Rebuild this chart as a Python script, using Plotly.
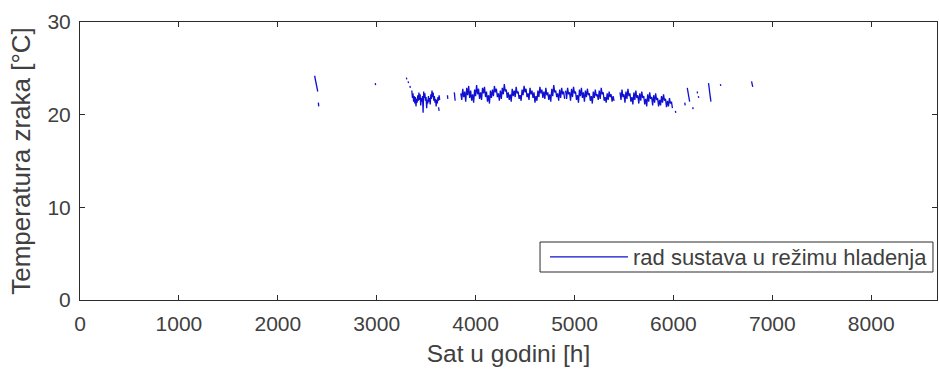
import plotly.graph_objects as go

# Hourly operating segments of the system in cooling mode
# each segment: start hour, step in hours, air temperatures [°C]
SEG_START = [2372, 2410, 2985, 3300, 3318, 3336, 3355, 3625, 3715, 3785,
             3850, 4910, 5460, 6020, 6115, 6140, 6195, 6240, 6252, 6355,
             6475, 6790]
SEG_STEP = [8, 4, 4, 4, 4, 4, 6, 6, 4, 4,
            10, 10, 10, 4, 4, 8, 4, 4, 4, 6,
            4, 6]
SEG_TEMPS = [
    [24.2, 23.7, 23.3, 22.8, 22.5],
    [21.3, 20.9],
    [23.4, 23.2],
    [24.0, 23.8],
    [23.6, 23.4],
    [23.1, 22.9],
    [22.6, 21.8, 22.3, 21.4, 22.0, 21.2, 21.9, 20.9, 21.7, 21.3, 22.1, 21.5,
     22.4, 21.6, 22.2, 21.0, 21.8, 21.4, 22.0, 20.2, 22.5, 21.8, 22.3, 21.5,
     21.9, 20.7, 21.6, 21.2, 22.0, 21.4, 21.8, 21.1, 22.2, 21.7, 22.6, 21.9,
     22.4, 21.5, 22.0, 21.3, 21.7, 20.9, 21.6, 21.2, 21.9, 21.5, 22.1, 21.6],
    [20.8, 20.4],
    [22.1, 21.7],
    [22.4, 21.9, 21.5],
    [22.3, 21.6, 22.8, 21.9, 22.5, 21.4, 22.9, 22.1, 23.1, 21.8, 22.6, 21.5,
     22.2, 21.3, 22.7, 22.0, 23.2, 22.2, 22.8, 21.7, 22.4, 21.6, 22.9, 22.3,
     23.0, 21.9, 22.5, 21.4, 22.1, 21.2, 22.6, 21.8, 22.7, 22.0, 23.1, 22.4,
     22.8, 21.9, 22.3, 21.5, 22.6, 21.7, 22.9, 22.2, 23.3, 22.5, 22.7, 21.8,
     22.4, 21.6, 22.2, 21.4, 22.8, 22.0, 22.6, 21.9, 23.0, 22.3, 22.5, 21.7,
     22.1, 21.5, 22.7, 22.1, 23.1, 22.4, 22.8, 21.9, 22.3, 21.6, 22.9, 22.2,
     22.6, 21.8, 22.4, 21.3, 22.0, 21.5, 22.6, 21.9, 23.0, 22.3, 22.7, 21.8,
     22.5, 21.7, 22.9, 22.1, 22.4, 21.6, 22.2, 21.4, 22.8, 22.0, 23.2, 22.4,
     22.6, 21.9, 22.3, 21.5, 22.7, 21.8, 22.9, 22.2, 22.5, 21.7],
    [22.6, 21.7, 22.9, 22.2, 22.4, 21.5, 22.8, 21.9, 23.0, 22.3, 22.5, 21.6,
     22.1, 21.3, 22.7, 22.0, 22.9, 21.8, 22.4, 21.4, 22.6, 21.9, 22.8, 22.1,
     22.3, 21.5, 22.0, 21.2, 22.5, 21.8, 22.7, 22.0, 22.2, 21.6, 22.6, 21.7,
     22.9, 22.2, 22.4, 21.5, 21.9, 21.3, 22.3, 21.6, 22.5, 21.9, 22.2, 21.4,
     22.0, 21.5],
    [22.4, 21.6, 22.7, 21.9, 22.2, 21.3, 22.5, 21.7, 22.8, 22.0, 22.3, 21.4,
     21.9, 21.1, 22.4, 21.6, 22.6, 21.8, 22.1, 21.2, 22.3, 21.5, 22.5, 21.8,
     22.0, 21.1, 21.7, 20.9, 22.2, 21.4, 22.4, 21.7, 21.9, 21.0, 22.1, 21.3,
     22.3, 21.6, 21.8, 20.9, 21.6, 21.0, 22.0, 21.3, 22.2, 21.5, 21.7, 20.8,
     21.5, 20.9, 21.8, 21.2, 21.4, 20.7],
    [20.4, 20.2],
    [21.3, 21.0],
    [22.9, 22.3, 21.8, 21.4],
    [20.8, 20.6],
    [22.5, 22.3],
    [22.0, 21.8],
    [23.4, 22.9, 22.4, 21.9, 21.4],
    [23.3, 23.1],
    [23.6, 23.3, 23.0],
]

X_TICKS = [0, 1000, 2000, 3000, 4000, 5000, 6000, 7000, 8000]
Y_TICKS = [0, 10, 20, 30]
SERIES_NAME = "rad sustava u režimu hladenja"
X_TITLE = "Sat u godini [h]"
Y_TITLE = "Temperatura zraka [°C]"

hours, temps = [], []
for start, step, vals in zip(SEG_START, SEG_STEP, SEG_TEMPS):
    for i, v in enumerate(vals):
        hours.append(start + i * step)
        temps.append(v)
    hours.append(None)
    temps.append(None)

FONT = "Liberation Sans, Arial, Helvetica, sans-serif"
TXT = "#404040"
AX = "#2b2b2b"

fig = go.Figure()
fig.add_trace(go.Scatter(
    x=hours, y=temps, mode="lines", name=SERIES_NAME,
    line=dict(color="#1010d0", width=1.3), connectgaps=False,
    showlegend=True,
))

fig.update_layout(
    width=939, height=381,
    margin=dict(l=80, r=2, t=22, b=81, autoexpand=False),
    paper_bgcolor="white", plot_bgcolor="white",
    font=dict(family=FONT, size=21, color=TXT),
    showlegend=True,
    legend=dict(
        x=0.9953, y=0.1547, xanchor="right", yanchor="middle",
        borderwidth=0, bgcolor="rgba(0,0,0,0)",
        font=dict(family=FONT, size=22, color=TXT),
        itemwidth=78, tracegroupgap=0,
    ),
    # thin legend frame, as in the original (tighter than Plotly's own box)
    shapes=[dict(
        type="rect", xref="paper", yref="paper",
        x0=0.5368, x1=0.9953, y0=0.1007, y1=0.2086,
        line=dict(color=AX, width=1), fillcolor="white", layer="below",
    )],
    xaxis=dict(
        range=[0, 8665], tickvals=X_TICKS, ticktext=[str(v) for v in X_TICKS],
        ticks="inside", ticklen=5, tickcolor=AX, showline=True, linecolor=AX,
        linewidth=1, mirror="ticks", showgrid=False, zeroline=False,
        automargin=False, ticklabelstandoff=5,
        title=dict(text=X_TITLE, font=dict(size=24.5, color=TXT), standoff=10),
        tickfont=dict(size=21, color=TXT),
    ),
    yaxis=dict(
        range=[0, 30], tickvals=Y_TICKS, ticktext=[str(v) for v in Y_TICKS],
        ticks="inside", ticklen=5, tickcolor=AX, showline=True, linecolor=AX,
        linewidth=1, mirror="ticks", showgrid=False, zeroline=False,
        automargin=False, ticklabelstandoff=4,
        title=dict(text=Y_TITLE, font=dict(size=26, color=TXT), standoff=9),
        tickfont=dict(size=21, color=TXT),
    ),
)

fig.write_html(
    "out.html",
    config={"displayModeBar": False},
    post_script="document.body.style.margin='0';document.body.style.overflow='hidden';",
)
